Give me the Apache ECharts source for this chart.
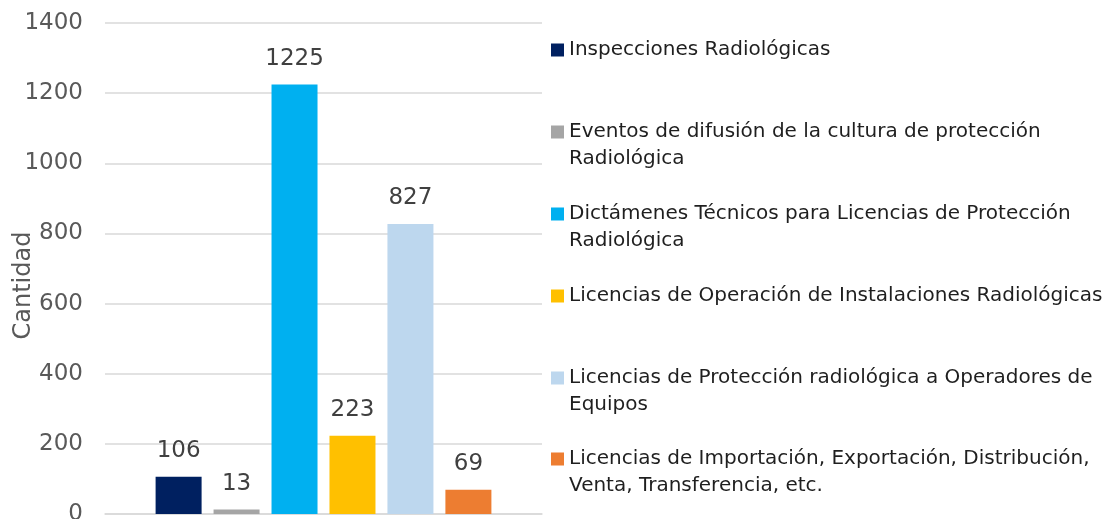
<!DOCTYPE html>
<html><head><meta charset="utf-8">
<script src="https://cdn.jsdelivr.net/npm/echarts@6/dist/echarts.min.js"></script>
<style>html,body{margin:0;padding:0;background:#fff;overflow:hidden}#c{width:1107px;height:519px}</style>
</head><body><div id="c"></div>
<script>
const seriesNames = [
  "Inspecciones Radiológicas",
  "Eventos de difusión de la cultura de protección Radiológica",
  "Dictámenes Técnicos para Licencias de Protección Radiológica",
  "Licencias de Operación de Instalaciones Radiológicas",
  "Licencias de Protección radiológica a Operadores de Equipos",
  "Licencias de Importación, Exportación, Distribución, Venta, Transferencia, etc."
];
const legendLabels = [
  "Inspecciones Radiológicas",
  "Eventos de difusión de la cultura de protección\nRadiológica",
  "Dictámenes Técnicos para Licencias de Protección\nRadiológica",
  "Licencias de Operación de Instalaciones Radiológicas",
  "Licencias de Protección radiológica a Operadores de\nEquipos",
  "Licencias de Importación, Exportación, Distribución,\nVenta, Transferencia, etc."
];
const values = [106, 13, 1225, 223, 827, 69];
const colors = ["#002060", "#A5A5A5", "#00B0F0", "#FFC000", "#BDD7EE", "#ED7D31"];
const yTicks = [0, 200, 400, 600, 800, 1000, 1200, 1400];

const FONT = "DejaVu Sans";
const LH = 27;
const chart = echarts.init(document.getElementById('c'), null, {renderer: 'canvas'});
const legends = seriesNames.map((n, i) => {
  const twoLines = legendLabels[i].indexOf('\n') >= 0;
  return {
    show: true,
    left: 551,
    top: 50 + 82 * i - (i === 5 ? 1 : 0) - 13.5,
    padding: 0,
    data: [n],
    icon: twoLines ? 'path://M0,0h13v13h-13z M0,39.99h0.01v0.01h-0.01z' : 'rect',
    itemWidth: 13,
    itemHeight: twoLines ? 13 + LH : 13,
    itemGap: 0,
    selectedMode: false,
    formatter: () => legendLabels[i],
    textStyle: {fontFamily: FONT, fontSize: 20, color: '#1f1f1f', lineHeight: LH}
  };
});
chart.setOption({
  animation: false,
  color: colors,
  grid: {left: 105, top: 23, width: 437, height: 491, containLabel: false, outerBoundsMode: 'none'},
  legend: legends,
  xAxis: {
    type: 'category', data: [''],
    axisLine: {show: true, lineStyle: {color: '#D9D9D9', width: 1.5}},
    axisTick: {show: false}, axisLabel: {show: false}
  },
  yAxis: {
    type: 'value', min: yTicks[0], max: yTicks[yTicks.length - 1], interval: 200,
    name: 'Cantidad', nameLocation: 'middle', nameGap: 69, nameMoveOverlap: false,
    nameTextStyle: {fontFamily: FONT, fontSize: 24, color: '#595959', padding: [0, 34, 0, 0]},
    axisLine: {show: false}, axisTick: {show: false},
    axisLabel: {fontFamily: FONT, fontSize: 23, color: '#595959', margin: 22,
      formatter: v => String(v)},
    splitLine: {lineStyle: {color: '#D9D9D9', width: 1.5}}
  },
  series: seriesNames.map((n, i) => ({
    name: n, type: 'bar', data: [values[i]],
    barWidth: 46, barGap: '26%',
    itemStyle: {color: colors[i]},
    label: {show: true, position: 'top', distance: 14, fontFamily: FONT, fontSize: 23, color: '#404040'}
  }))
});
</script></body></html>
